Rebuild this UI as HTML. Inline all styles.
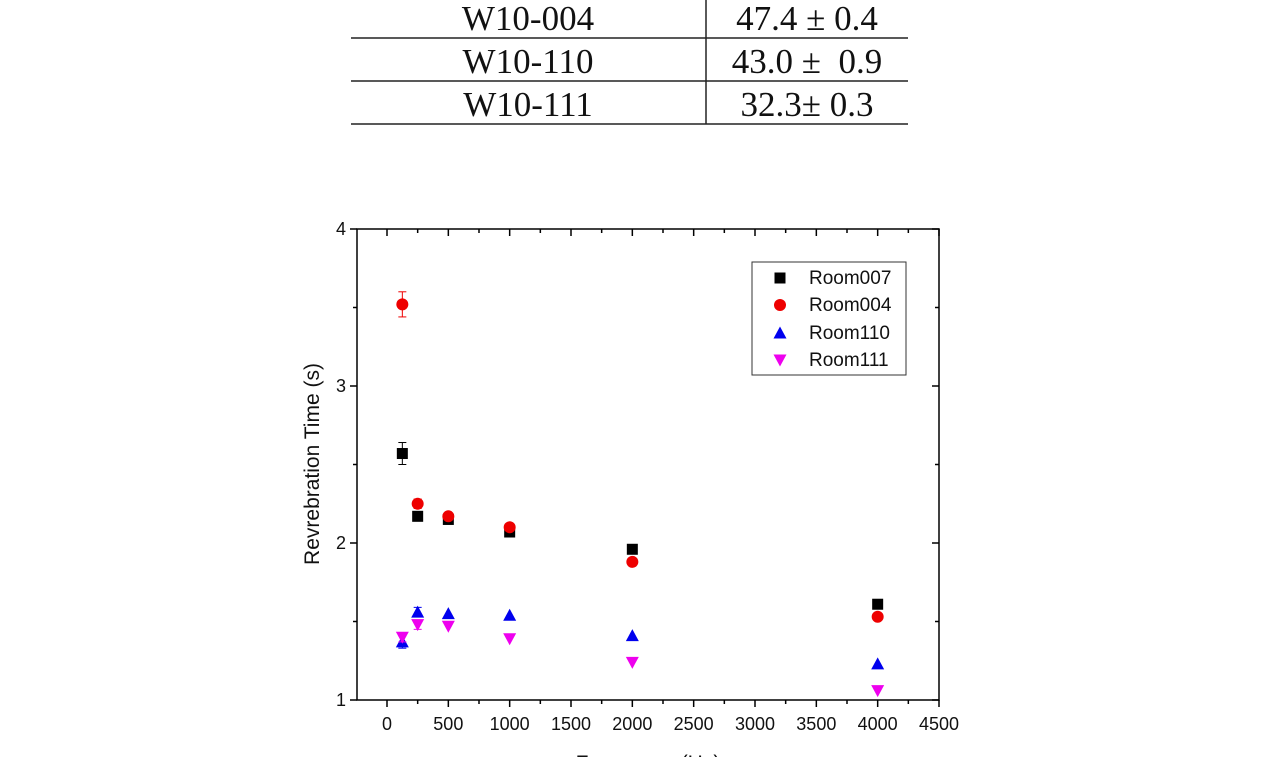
<!DOCTYPE html>
<html><head><meta charset="utf-8"><style>
html,body{margin:0;padding:0;background:#fff;width:1270px;height:757px;overflow:hidden}
svg{display:block}
</style></head><body>
<svg id="s" width="1270" height="757" xmlns="http://www.w3.org/2000/svg">
<g font-family="Liberation Serif, serif" font-size="35" fill="#111" text-anchor="middle">
<text x="528" y="30">W10-004</text><text x="807" y="30">47.4 ± 0.4</text>
<text x="528" y="73">W10-110</text><text x="807" y="73">43.0 ±&#160; 0.9</text>
<text x="528" y="116">W10-111</text><text x="807" y="116">32.3± 0.3</text>
</g>
<g stroke="#222" stroke-width="1.5">
<line x1="351" y1="38" x2="908" y2="38"/><line x1="351" y1="81" x2="908" y2="81"/><line x1="351" y1="124" x2="908" y2="124"/>
<line x1="706" y1="0" x2="706" y2="124"/>
</g>
<rect x="357" y="229" width="582" height="471" fill="none" stroke="#000" stroke-width="1.5"/>
<g id="ax" stroke="#000" stroke-width="1.5"></g>
<g id="lab" font-family="Liberation Sans, sans-serif" font-size="18" fill="#111"></g>
<text transform="translate(319,464) rotate(-90)" font-family="Liberation Sans, sans-serif" font-size="21" text-anchor="middle" fill="#111">Revrebration Time (s)</text>
<text x="648" y="770" font-family="Liberation Sans, sans-serif" font-size="21" text-anchor="middle" fill="#111">Frequency (Hz)</text>
<g id="pts"></g>
<rect x="752" y="262" width="154" height="113" fill="#fff" stroke="#333" stroke-width="1"/>
<g font-family="Liberation Sans, sans-serif" font-size="19" fill="#111">
<text x="809" y="284">Room007</text><text x="809" y="311">Room004</text><text x="809" y="339">Room110</text><text x="809" y="366">Room111</text>
</g>
<g id="leg"></g>
</svg>
<script>
var NS="http://www.w3.org/2000/svg";
function el(p,t,a){var e=document.createElementNS(NS,t);for(var k in a)e.setAttribute(k,a[k]);p.appendChild(e);return e;}
function X(f){return 387+f*0.122667;}function Y(v){return 700-(v-1)*157;}
var ax=document.getElementById('ax'),lab=document.getElementById('lab');
for(var f=-250;f<=4500;f+=250){var x=X(f);if(x<357)continue;var L=(f%500==0)?7:4;
el(ax,'line',{x1:x,y1:700,x2:x,y2:700+L});el(ax,'line',{x1:x,y1:229,x2:x,y2:229+L});
if(f%500==0&&f>=0){var t=el(lab,'text',{x:x,y:730,'text-anchor':'middle'});t.textContent=f;}}
for(var v=1;v<=4;v+=0.5){var y=Y(v);var L=(v%1==0)?7:4;
el(ax,'line',{x1:357,y1:y,x2:357-L,y2:y});el(ax,'line',{x1:939,y1:y,x2:939-L,y2:y});
if(v%1==0){var t=el(lab,'text',{x:346,y:y+6,'text-anchor':'end'});t.textContent=v;}}
var F=[125,250,500,1000,2000,4000];
var S=[{c:'#000',m:'sq',d:[2.57,2.17,2.15,2.07,1.96,1.61],e:[0.07,0.03,0,0,0,0]},
{c:'#e00',m:'ci',d:[3.52,2.25,2.17,2.10,1.88,1.53],e:[0.08,0.03,0,0,0,0]},
{c:'#00e',m:'up',d:[1.37,1.56,1.55,1.54,1.41,1.23],e:[0.04,0.03,0,0,0,0]},
{c:'#e0e',m:'dn',d:[1.40,1.48,1.47,1.39,1.24,1.06],e:[0.03,0.03,0,0,0,0]}];
function mk(p,m,x,y,c){if(m=='sq')el(p,'rect',{x:x-5.5,y:y-5.5,width:11,height:11,fill:c});
else if(m=='ci')el(p,'circle',{cx:x,cy:y,r:6,fill:c});
else if(m=='up')el(p,'polygon',{points:(x-6.5)+','+(y+5.5)+' '+(x+6.5)+','+(y+5.5)+' '+x+','+(y-6.5),fill:c});
else el(p,'polygon',{points:(x-6.5)+','+(y-5.5)+' '+(x+6.5)+','+(y-5.5)+' '+x+','+(y+6.5),fill:c});}
var pts=document.getElementById('pts');
S.forEach(function(s){F.forEach(function(f,i){var x=X(f),y=Y(s.d[i]);
if(s.e[i]){var a=Y(s.d[i]+s.e[i]),b=Y(s.d[i]-s.e[i]);el(pts,'line',{x1:x,y1:a,x2:x,y2:b,stroke:s.c,'stroke-width':1});
el(pts,'line',{x1:x-4,y1:a,x2:x+4,y2:a,stroke:s.c,'stroke-width':1});el(pts,'line',{x1:x-4,y1:b,x2:x+4,y2:b,stroke:s.c,'stroke-width':1});}
mk(pts,s.m,x,y,s.c);});});
var leg=document.getElementById('leg');
[278,305,333,360].forEach(function(y,i){mk(leg,S[i].m,780,y,S[i].c);});
</script>
</body></html>
